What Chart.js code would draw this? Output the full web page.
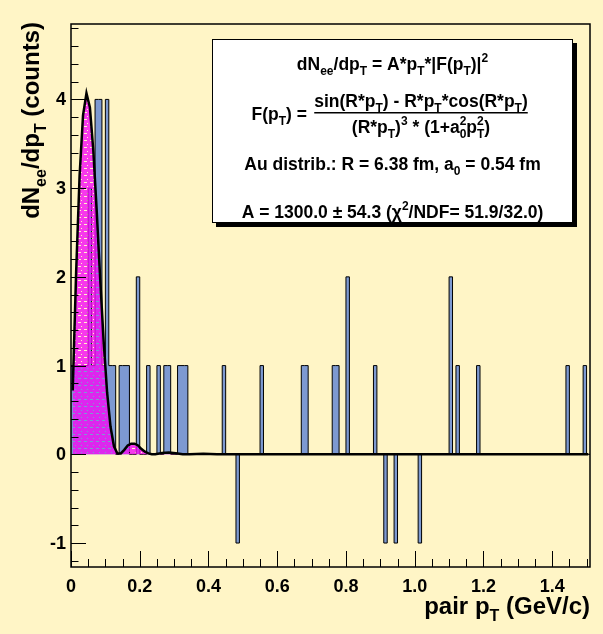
<!DOCTYPE html>
<html lang="en">
<head>
<meta charset="UTF-8">
<title>pair pT</title>
<script src="https://cdn.jsdelivr.net/npm/chart.js"></script>
<style>
    body {
        margin: 0;
        background-color: #fff5c6;
    }
    #wrap {
        width: 603px;
        height: 634px;
    }
</style>
</head>
<body>
<div id="wrap"><canvas id="pt-chart" width="603" height="634"></canvas></div>
<script>
// histogram: 0.01 GeV/c bins, only the non-empty ones listed (low edge -> content)
const binWidth = 0.01;
const nBins = 151;
const binLow = [0.00, 0.01, 0.02, 0.03, 0.04, 0.05, 0.06, 0.07, 0.08, 0.09, 0.10, 0.11, 0.12,
    0.14, 0.15, 0.16, 0.19, 0.22, 0.25, 0.27, 0.28, 0.31, 0.32, 0.33, 0.44, 0.48, 0.55,
    0.67, 0.68, 0.76, 0.77, 0.80, 0.88, 0.91, 0.94, 1.01, 1.10, 1.12, 1.18, 1.44, 1.49];
const binCounts = [1, 1, 1, 1, 1, 3, 1, 4, 4, 1, 4, 1, 1,
    1, 1, 1, 2, 1, 1, 1, 1, 1, 1, 1, 1, -1, 1,
    1, 1, 1, 1, 2, 1, -1, -1, -1, 2, 1, 1, 1, 1];

// fit curve
const fitPt = [0.005, 0.015, 0.025, 0.035, 0.045, 0.055, 0.065, 0.075, 0.085, 0.095, 0.105,
    0.115, 0.125, 0.135, 0.145, 0.155, 0.165, 0.175, 0.185, 0.195, 0.205, 0.215, 0.225,
    0.235, 0.245, 0.265, 0.285, 0.305, 0.325, 0.345, 0.365, 0.385, 0.405, 0.425,
    0.6, 0.8, 1.0, 1.2, 1.505];
const fitVal = [0.72, 2.06, 3.14, 3.82, 4.07, 3.91, 3.42, 2.73, 1.97, 1.27, 0.70,
    0.31, 0.09, 0.01, 0.01, 0.05, 0.10, 0.12, 0.12, 0.10, 0.06, 0.03, 0.01,
    0, 0, 0.015, 0.02, 0.011, 0.002, 0, 0.004, 0.005, 0.003, 0,
    0, 0, 0, 0, 0];

const xTicks = [0, 0.2, 0.4, 0.6, 0.8, 1.0, 1.2, 1.4];
const yTicks = [-1, 0, 1, 2, 3, 4];
const xRange = [0, 1.51];
const yRange = [-1.27, 4.85];

const FONT = "'Liberation Sans', Arial, Helvetica, sans-serif";

// full step table for the histogram outline
const histPoints = [];
for (let i = 0; i < nBins; i++) {
    const k = binLow.findIndex(v => Math.round(v / binWidth) === i);
    histPoints.push({ x: i * binWidth, y: k >= 0 ? binCounts[k] : 0 });
}
histPoints.push({ x: nBins * binWidth, y: histPoints[nBins - 1].y });

const fitPoints = fitPt.map((x, i) => ({ x: x, y: fitVal[i] }));

function magentaHatch() {
    const c = document.createElement('canvas');
    c.width = 6;
    c.height = 7;
    const g = c.getContext('2d');
    g.fillStyle = 'rgba(245, 10, 245, 0.8)';
    g.fillRect(0, 0, 6, 7);
    g.clearRect(0, 0, 3, 1);
    g.clearRect(3, 4, 1, 1);
    return g.createPattern(c, 'repeat');
}

// text with sub/superscripts
function partWidth(ctx, p, size) {
    if (p.k === 'n') {
        ctx.font = 'bold ' + size + 'px ' + FONT;
        return ctx.measureText(p.t).width;
    }
    ctx.font = 'bold ' + Math.round(size * 0.68) + 'px ' + FONT;
    let w = ctx.measureText(p.t).width;
    if (p.s) w = Math.max(w, ctx.measureText(p.s).width);
    return w;
}

function richWidth(ctx, parts, size) {
    return parts.reduce((s, p) => s + partWidth(ctx, p, size), 0);
}

function drawRich(ctx, parts, x, y, size) {
    ctx.textBaseline = 'alphabetic';
    ctx.textAlign = 'left';
    parts.forEach(p => {
        const w = partWidth(ctx, p, size);
        if (p.k === 'n') {
            ctx.font = 'bold ' + size + 'px ' + FONT;
            ctx.fillText(p.t, x, y);
        } else {
            ctx.font = 'bold ' + Math.round(size * 0.68) + 'px ' + FONT;
            if (p.k === 'sub') ctx.fillText(p.t, x, y + size * 0.3);
            if (p.k === 'sup') ctx.fillText(p.t, x, y - size * 0.45);
            if (p.k === 'ss') {
                ctx.fillText(p.t, x, y + size * 0.3);
                ctx.fillText(p.s, x, y - size * 0.45);
            }
        }
        x += w;
    });
    return x;
}

const N = t => ({ t: t, k: 'n' });
const SUB = t => ({ t: t, k: 'sub' });
const SUP = t => ({ t: t, k: 'sup' });
const SS = (t, s) => ({ t: t, k: 'ss', s: s });

const line1 = [N('dN'), SUB('ee'), N('/dp'), SUB('T'), N(' = A*p'), SUB('T'), N('*|F(p'), SUB('T'), N(')|'), SUP('2')];
const fLeft = [N('F(p'), SUB('T'), N(') =')];
const fNum = [N('sin(R*p'), SUB('T'), N(') - R*p'), SUB('T'), N('*cos(R*p'), SUB('T'), N(')')];
const fDen = [N('(R*p'), SUB('T'), N(')'), SUP('3'), N(' * (1+a'), SS('0', '2'), N('p'), SS('T', '2'), N(')')];
const line3 = [N('Au distrib.: R = 6.38 fm, a'), SUB('0'), N(' = 0.54 fm')];
const line4 = [N('A = 1300.0 \u00b1 54.3 (\u03c7'), SUP('2'), N('/NDF= 51.9/32.0)')];
const xTitle = [N('pair p'), SUB('T'), N(' (GeV/c)')];
const yTitle = [N('dN'), SUB('ee'), N('/dp'), SUB('T'), N(' (counts)')];

const frameAndTicks = {
    id: 'frameAndTicks',
    afterDatasetsDraw(chart) {
        const { ctx, chartArea: a, scales } = chart;
        const xs = scales.x, ys = scales.y;
        ctx.save();
        ctx.strokeStyle = '#000';
        ctx.lineWidth = 1;
        ctx.beginPath();
        for (let v = 0; v <= xRange[1] + 1e-9; v += 0.05) {
            const px = Math.round(xs.getPixelForValue(v)) + 0.5;
            const major = Math.abs(v / 0.2 - Math.round(v / 0.2)) < 1e-6;
            ctx.moveTo(px, a.bottom);
            ctx.lineTo(px, a.bottom - (major ? 16 : 8));
        }
        for (let v = -1.2; v <= yRange[1] + 1e-9; v += 0.2) {
            const py = Math.round(ys.getPixelForValue(v)) + 0.5;
            const major = Math.abs(v - Math.round(v)) < 1e-6;
            ctx.moveTo(a.left, py);
            ctx.lineTo(a.left + (major ? 15 : 7.5), py);
        }
        ctx.stroke();
        ctx.lineWidth = 1.5;
        ctx.strokeRect(a.left, a.top, a.right - a.left, a.bottom - a.top);

        // y tick labels
        ctx.fillStyle = '#000';
        ctx.font = 'bold 18px ' + FONT;
        ctx.textAlign = 'right';
        ctx.textBaseline = 'middle';
        yTicks.forEach(v => ctx.fillText(String(v), a.left - 5, ys.getPixelForValue(v) + 1));
        ctx.restore();
    },
    afterDraw(chart) {
        const { ctx, chartArea: a } = chart;
        ctx.save();
        ctx.fillStyle = '#000';
        // axis titles
        const tx = 24;
        drawRich(ctx, xTitle, a.right - richWidth(ctx, xTitle, tx), 614, tx);
        ctx.translate(39, 22);
        ctx.rotate(-Math.PI / 2);
        drawRich(ctx, yTitle, -richWidth(ctx, yTitle, tx), 0, tx);
        ctx.restore();

        // fit result box
        ctx.save();
        ctx.fillStyle = '#000';
        ctx.fillRect(216, 43, 361, 184);
        ctx.fillStyle = '#fff';
        ctx.fillRect(212, 39, 361, 184);
        ctx.strokeStyle = '#000';
        ctx.lineWidth = 1;
        ctx.strokeRect(212.5, 39.5, 360, 183);
        ctx.fillStyle = '#000';
        const fs = 17.5;
        const cx = 392.5;
        drawRich(ctx, line1, cx - richWidth(ctx, line1, fs) / 2, 70, fs);
        drawRich(ctx, fLeft, 307 - richWidth(ctx, fLeft, fs), 120, fs);
        const nw = richWidth(ctx, fNum, fs);
        const fx = 421;
        drawRich(ctx, fNum, fx - nw / 2, 107, fs);
        drawRich(ctx, fDen, fx - richWidth(ctx, fDen, fs) / 2, 133, fs);
        ctx.fillRect(fx - nw / 2, 112, nw, 1.5);
        drawRich(ctx, line3, cx - richWidth(ctx, line3, fs) / 2, 170, fs);
        drawRich(ctx, line4, cx - richWidth(ctx, line4, fs) / 2, 218, fs);
        ctx.restore();
    }
};

new Chart(document.getElementById('pt-chart'), {
    type: 'line',
    data: {
        datasets: [{
            data: histPoints,
            stepped: true,
            borderColor: '#000000',
            borderWidth: 1,
            backgroundColor: '#7d99d1',
            fill: 'origin',
            pointRadius: 0,
            order: 2
        }, {
            data: fitPoints,
            borderColor: '#000000',
            borderWidth: 2.5,
            backgroundColor: magentaHatch(),
            fill: 'origin',
            tension: 0,
            pointRadius: 0,
            order: 1
        }]
    },
    options: {
        responsive: false,
        animation: false,
        events: [],
        layout: {
            padding: { left: 0, right: 13, top: 24, bottom: 0 }
        },
        plugins: {
            legend: { display: false },
            tooltip: { enabled: false }
        },
        scales: {
            x: {
                type: 'linear',
                min: xRange[0],
                max: xRange[1],
                afterBuildTicks: s => { s.ticks = xTicks.map(v => ({ value: v })); },
                afterFit: s => { s.height = 67; },
                grid: { display: false, drawTicks: false },
                border: { display: false },
                ticks: {
                    padding: 9,
                    color: '#000',
                    maxRotation: 0,
                    autoSkip: false,
                    font: { family: FONT, size: 18, weight: 'bold' }
                }
            },
            y: {
                min: yRange[0],
                max: yRange[1],
                afterBuildTicks: s => { s.ticks = yTicks.map(v => ({ value: v })); },
                afterFit: s => { s.width = 71; },
                grid: { display: false, drawTicks: false },
                border: { display: false },
                ticks: { display: false }
            }
        }
    },
    plugins: [frameAndTicks]
});
</script>
</body>
</html>
